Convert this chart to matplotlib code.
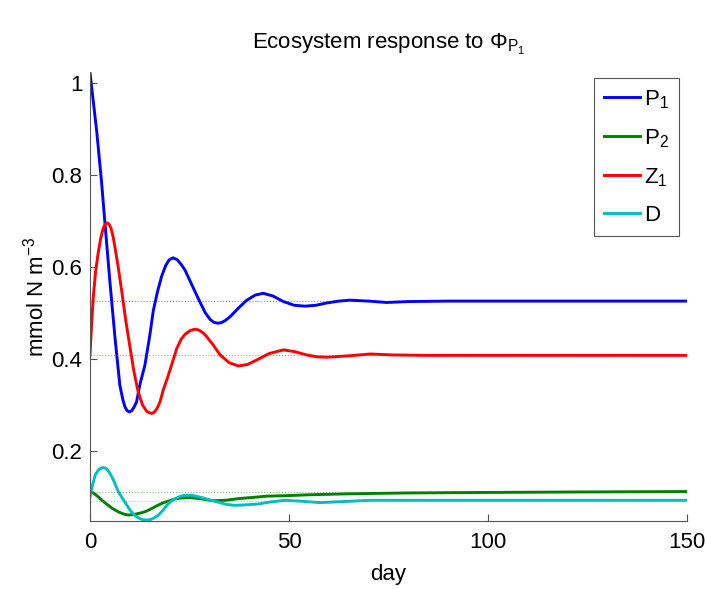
import matplotlib
matplotlib.use("Agg")
import matplotlib.pyplot as plt
from matplotlib.ticker import FormatStrFormatter

plt.rcParams['font.family'] = ['Liberation Sans', 'DejaVu Sans']
plt.rcParams['mathtext.fontset'] = 'custom'
plt.rcParams['mathtext.rm'] = 'Liberation Sans'
plt.rcParams['mathtext.it'] = 'Liberation Sans'

# P1 phytoplankton
day_p1 = [0, 0.8, 1.7, 2.9, 3.8, 5.0, 6.3, 7.5, 8.3, 8.8, 9.3, 9.9, 10.5, 11.1, 11.7, 12.6,
          13.8, 15.0, 15.9, 17.0, 18.0, 19.0, 19.9, 20.9, 21.9, 22.9, 23.9, 25.5, 27.4, 29.0,
          30.2, 31.1, 32.0, 33.0, 34.0, 35.2, 37.2, 39.4, 41.5, 43.5, 46.0, 48.6, 51.3, 54.0,
          56.8, 59.5, 62.5, 65.3, 70.0, 74.5, 80, 90, 110, 130, 150]
p1 = [1.022, 0.962, 0.894, 0.785, 0.691, 0.568, 0.445, 0.343, 0.310, 0.296, 0.288, 0.285,
      0.288, 0.296, 0.307, 0.347, 0.387, 0.450, 0.505, 0.548, 0.580, 0.603, 0.616, 0.620,
      0.616, 0.606, 0.593, 0.563, 0.528, 0.500, 0.486, 0.480, 0.478, 0.479, 0.484, 0.492,
      0.510, 0.528, 0.539, 0.543, 0.537, 0.525, 0.517, 0.515, 0.517, 0.522, 0.526, 0.528,
      0.526, 0.523, 0.525, 0.526, 0.526, 0.526, 0.526]

# P2 phytoplankton
day_p2 = [0, 1.0, 2.0, 3.0, 4.0, 5.5, 7.1, 8.5, 9.6, 11.0, 12.5, 13.8, 15.5, 17.0, 18.5,
          20.0, 21.4, 23.0, 25.1, 28.0, 31.0, 34.0, 37.7, 40.6, 44.4, 49.0, 55.0, 64.5, 80,
          98, 120, 150]
p2 = [0.112, 0.108, 0.101, 0.093, 0.086, 0.076, 0.068, 0.063, 0.061, 0.062, 0.065, 0.068,
      0.075, 0.082, 0.088, 0.092, 0.096, 0.098, 0.099, 0.096, 0.092, 0.093, 0.097, 0.099,
      0.102, 0.103, 0.105, 0.107, 0.109, 0.110, 0.111, 0.112]

# Z1 zooplankton
day_z1 = [0, 0.4, 0.8, 1.4, 2.1, 2.7, 3.3, 3.8, 4.3, 4.8, 5.3, 5.9, 7.0, 8.0, 9.0, 10.1,
          11.1, 12.1, 13.2, 14.2, 14.9, 15.5, 16.1, 16.8, 17.6, 18.4, 19.5, 20.5, 21.8, 22.9,
          23.9, 25.2, 26.4, 27.4, 28.4, 29.3, 31.0, 32.7, 35.0, 37.3, 39.5, 41.9, 45.0, 48.6,
          51.5, 54.4, 57.0, 59.5, 65.0, 70.4, 76, 85, 100, 150]
z1 = [0.409, 0.475, 0.532, 0.590, 0.633, 0.663, 0.684, 0.693, 0.696, 0.693, 0.684, 0.662,
      0.605, 0.546, 0.483, 0.423, 0.370, 0.329, 0.300, 0.287, 0.283, 0.282, 0.284, 0.292,
      0.307, 0.333, 0.360, 0.387, 0.423, 0.443, 0.454, 0.462, 0.465, 0.463, 0.457, 0.449,
      0.430, 0.409, 0.392, 0.385, 0.388, 0.398, 0.412, 0.420, 0.416, 0.409, 0.405, 0.404,
      0.407, 0.411, 0.409, 0.408, 0.408, 0.408]

# D detritus
day_d = [0, 0.6, 1.3, 2.2, 2.8, 3.3, 3.9, 4.5, 5.2, 6.0, 7.1, 8.4, 9.2, 10.2, 11.3, 12.1,
         13.2, 14.2, 15.2, 16.2, 17.2, 18.5, 19.7, 20.9, 22.0, 23.2, 24.3, 25.4, 26.5, 28.1,
         30.0, 32.2, 34.3, 36.4, 39.0, 42.3, 45.0, 49.0, 53.0, 57.8, 63.0, 70.4, 85, 100, 150]
d = [0.100, 0.125, 0.148, 0.160, 0.163, 0.164, 0.163, 0.158, 0.149, 0.135, 0.112, 0.094,
     0.083, 0.070, 0.060, 0.055, 0.051, 0.050, 0.051, 0.055, 0.061, 0.073, 0.086, 0.094,
     0.099, 0.103, 0.104, 0.104, 0.102, 0.099, 0.094, 0.089, 0.084, 0.082, 0.083, 0.085,
     0.089, 0.093, 0.091, 0.088, 0.090, 0.093, 0.093, 0.093, 0.093]

# dotted reference levels
ref_levels = [0.527, 0.110, 0.409, 0.092]

labels = [r'$\mathregular{P_1}$', r'$\mathregular{P_2}$', r'$\mathregular{Z_1}$', 'D']
colors = ['#0000ff', '#008000', '#ff0000', '#00bfbf']

fig = plt.figure(figsize=(7.07, 5.89), dpi=100)
ax = fig.add_axes([90/707, 68/589, 597/707, 449/589])

series = [(day_p1, p1), (day_p2, p2), (day_z1, z1), (day_d, d)]
for (x, y), c, lab in zip(series, colors, labels):
    ax.plot(x, y, color=c, lw=2.1, label=lab)
for lev, c in zip(ref_levels, colors):
    ax.plot([0, 150], [lev, lev], ls=':', color=c, lw=0.8, alpha=0.5)

ax.set_xlim(0, 150)
ax.set_ylim(0.048, 1.024)
ax.set_xticks([0, 50, 100, 150])
ax.set_yticks([0.2, 0.4, 0.6, 0.8, 1.0])
ax.yaxis.set_major_formatter(FormatStrFormatter('%g'))
ax.tick_params(direction='in', length=5, labelsize=16, color='#555555')
ax.tick_params(axis='x', pad=8)
ax.tick_params(axis='y', pad=5.5)
for s in ['top', 'right']:
    ax.spines[s].set_visible(False)
for s in ['left', 'bottom']:
    ax.spines[s].set_color('#555555')

ax.set_xlabel('day', fontsize=16, labelpad=8)
ax.set_ylabel(r'mmol N m$^{-3}$', fontsize=16, labelpad=2)
ax.set_title(r'Ecosystem response to $\Phi_{\mathregular{P_1}}$', fontsize=16, pad=17)

leg = ax.legend(loc='upper right', bbox_to_anchor=(679/707, 1 - 78/589),
                bbox_transform=fig.transFigure, borderaxespad=0, fontsize=16,
                handlelength=1.6, handletextpad=0.2, labelspacing=0.74,
                borderpad=0.45, fancybox=False, framealpha=1, edgecolor='#555555')
leg.get_frame().set_linewidth(0.8)

fig.savefig('out.png', dpi=100)
